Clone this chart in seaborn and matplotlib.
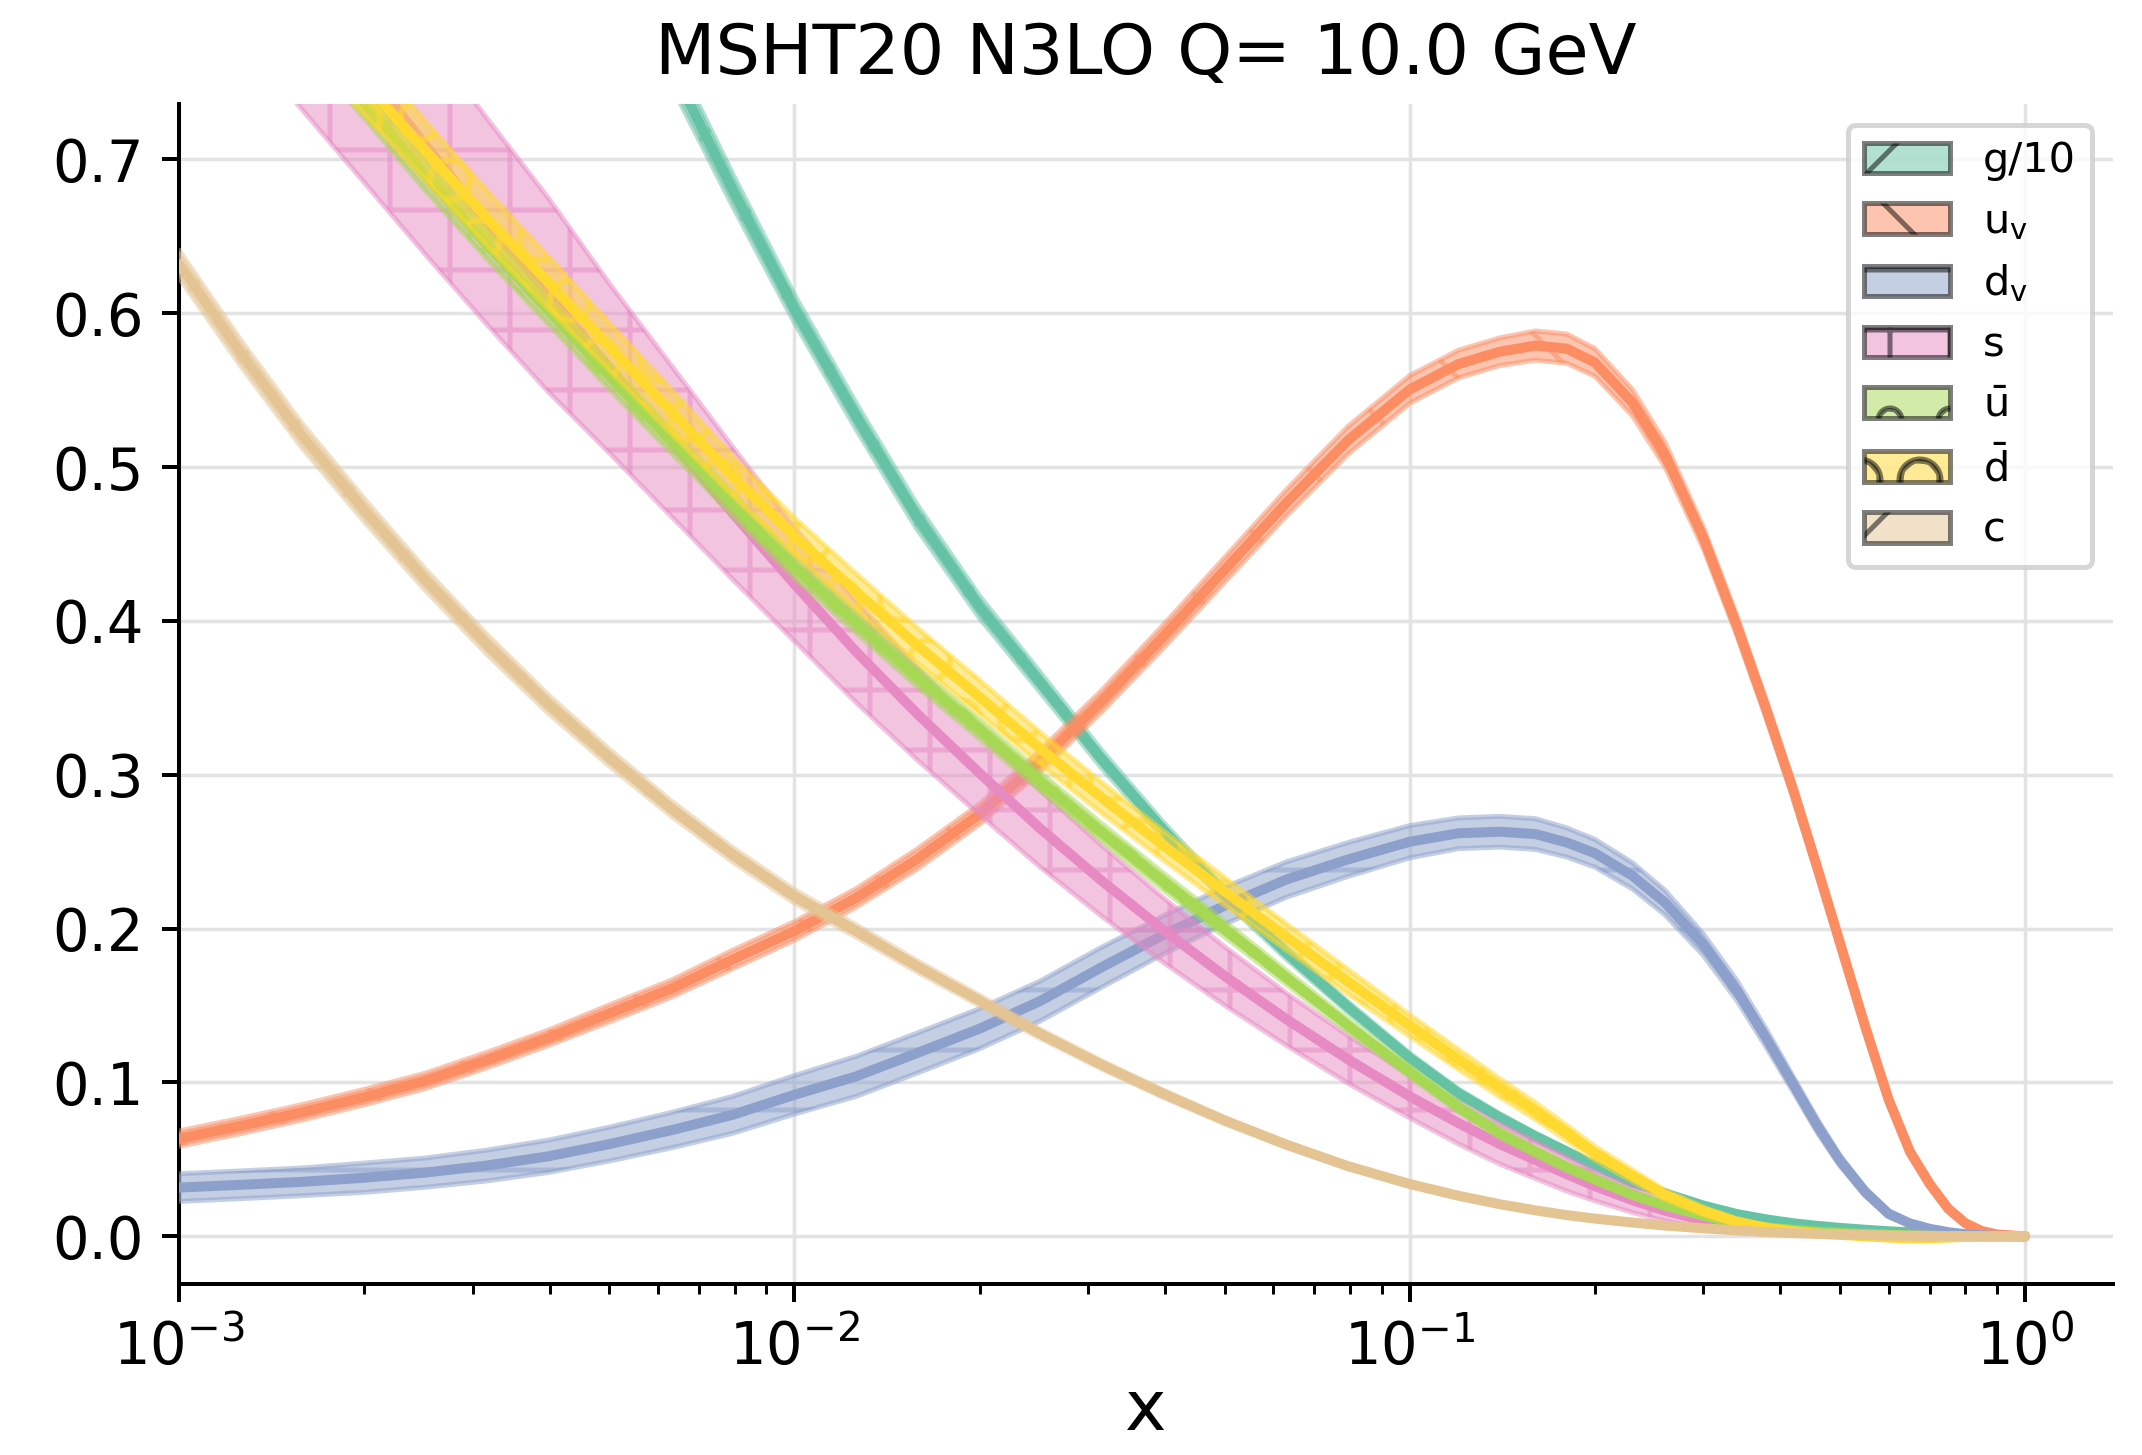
import numpy as np
import pandas as pd
import matplotlib
matplotlib.use("Agg")
import matplotlib.pyplot as plt
import matplotlib.patches as mpatches
import seaborn as sns

sns.set_style("ticks", {"axes.edgecolor": "black", "text.color": "black",
                        "xtick.color": "black", "ytick.color": "black",
                        "axes.labelcolor": "black"})

# momentum fraction grid
x = [0.001, 0.00126, 0.00158, 0.002, 0.00251, 0.00316, 0.00398, 0.00501, 0.00631, 0.00794,
     0.01, 0.0126, 0.0158, 0.02, 0.0251, 0.0316, 0.0398, 0.0501, 0.0631, 0.0794,
     0.1, 0.12, 0.14, 0.16, 0.18, 0.2, 0.23, 0.26, 0.3, 0.34, 0.38, 0.42, 0.46,
     0.5, 0.55, 0.6, 0.65, 0.7, 0.75, 0.8, 0.85, 0.9, 1.0]

# central values x*f(x, Q=10 GeV)
g10 = [1.50, 1.40, 1.30, 1.205, 1.11, 1.018, 0.929, 0.843, 0.760, 0.680,
       0.603, 0.533, 0.468, 0.409, 0.36, 0.31, 0.264, 0.222, 0.184, 0.149,
       0.116, 0.093, 0.0773, 0.065, 0.055, 0.046, 0.035, 0.028, 0.020, 0.0145, 0.011, 0.0085, 0.0068,
       0.0055, 0.0043, 0.0033, 0.0026, 0.002, 0.0015, 0.0011, 0.0008, 0.0005, 0.0]
uv = [0.0635, 0.0718, 0.0805, 0.0905, 0.101, 0.1145, 0.129, 0.145, 0.161, 0.180,
      0.1985, 0.220, 0.245, 0.2745, 0.309, 0.348, 0.390, 0.4335, 0.477, 0.5175,
      0.5505, 0.567, 0.575, 0.579, 0.577, 0.568, 0.542, 0.508, 0.454, 0.397, 0.342, 0.290, 0.239,
      0.191, 0.136, 0.089, 0.055, 0.034, 0.018, 0.0085, 0.0035, 0.0012, 0.0]
dv = [0.0317, 0.0335, 0.0354, 0.0381, 0.0414, 0.046, 0.052, 0.060, 0.069, 0.079,
      0.092, 0.104, 0.119, 0.135, 0.153, 0.175, 0.196, 0.215, 0.232, 0.245,
      0.2565, 0.262, 0.263, 0.2615, 0.256, 0.249, 0.2344, 0.2169, 0.1896, 0.1599, 0.1285, 0.0988, 0.0716,
      0.0493, 0.0288, 0.0147, 0.0084, 0.0049, 0.0027, 0.0014, 0.0007, 0.0003, 0.0]
s = [0.916, 0.863, 0.811, 0.760, 0.7095, 0.660, 0.612, 0.564, 0.517, 0.470,
     0.424, 0.380, 0.340, 0.301, 0.265, 0.231, 0.199, 0.169, 0.141, 0.115,
     0.091, 0.0736, 0.060, 0.0496, 0.0404, 0.0326, 0.0235, 0.0166, 0.0104, 0.0066, 0.0045, 0.0031, 0.0022,
     0.0016, 0.0011, 0.0007, 0.0005, 0.0003, 0.0002, 0.0001, 0.0001, 0.0, 0.0]
ubar = [0.881, 0.831, 0.784, 0.7374, 0.690, 0.645, 0.602, 0.559, 0.517, 0.476,
        0.435, 0.399, 0.364, 0.3295, 0.2955, 0.2625, 0.2305, 0.1995, 0.168, 0.137,
        0.107, 0.084, 0.067, 0.055, 0.045, 0.037, 0.027, 0.020, 0.0135, 0.0085, 0.0058, 0.0042, 0.003,
        0.0022, 0.0015, 0.001, 0.0006, 0.0004, 0.0002, 0.0001, 0.0001, 0.0, 0.0]
dbar = [0.888, 0.841, 0.795, 0.750, 0.706, 0.662, 0.620, 0.578, 0.536, 0.494,
        0.455, 0.419, 0.3845, 0.3505, 0.317, 0.285, 0.254, 0.224, 0.1945, 0.1655,
        0.137, 0.115, 0.0966, 0.0815, 0.0672, 0.054, 0.0395, 0.027, 0.0165, 0.0095, 0.0055, 0.0032, 0.0018,
        0.001, 0.0, -0.0008, -0.0013, -0.0012, -0.0008, -0.0004, -0.0002, 0.0, 0.0]
c = [0.632, 0.574, 0.521, 0.472, 0.427, 0.385, 0.346, 0.311, 0.278, 0.248,
     0.221, 0.1985, 0.1757, 0.1532, 0.1316, 0.1114, 0.0926, 0.0752, 0.0595, 0.0456,
     0.034, 0.0264, 0.0209, 0.0169, 0.0138, 0.0115, 0.009, 0.007, 0.0052, 0.0038, 0.0028, 0.0021, 0.0016,
     0.0012, 0.0008, 0.0005, 0.0003, 0.0002, 0.0001, 0.0001, 0.0, 0.0, 0.0]

# half-widths of the uncertainty bands
g10_err = [0.02, 0.019, 0.018, 0.017, 0.016, 0.015, 0.014, 0.013, 0.012, 0.0105,
           0.009, 0.0085, 0.008, 0.0072, 0.0065, 0.0058, 0.005, 0.0044, 0.004, 0.0035,
           0.003, 0.0028, 0.0025, 0.0022, 0.002, 0.0018, 0.0015, 0.0012, 0.001, 0.0008, 0.0007, 0.0006, 0.0005,
           0.0004, 0.0003, 0.0003, 0.0002, 0.0002, 0.0001, 0.0001, 0.0, 0.0, 0.0]
uv_err = [0.005, 0.005, 0.005, 0.005, 0.005, 0.005, 0.005, 0.0055, 0.0055, 0.006,
          0.006, 0.006, 0.0065, 0.0065, 0.007, 0.007, 0.0075, 0.008, 0.0085, 0.009,
          0.009, 0.009, 0.009, 0.0095, 0.0095, 0.009, 0.0085, 0.008, 0.007, 0.0065, 0.006, 0.0055, 0.005,
          0.0045, 0.004, 0.003, 0.0025, 0.002, 0.0015, 0.001, 0.0005, 0.0003, 0.0]
dv_err = [0.009, 0.009, 0.009, 0.0095, 0.0095, 0.010, 0.0105, 0.011, 0.0115, 0.012,
          0.0125, 0.013, 0.013, 0.013, 0.013, 0.013, 0.0125, 0.012, 0.0115, 0.011,
          0.0105, 0.010, 0.010, 0.010, 0.0095, 0.009, 0.0085, 0.008, 0.007, 0.0065, 0.006, 0.005, 0.0045,
          0.0035, 0.0025, 0.002, 0.0013, 0.0009, 0.0006, 0.0003, 0.0002, 0.0001, 0.0]
s_err = [0.085, 0.082, 0.078, 0.075, 0.071, 0.067, 0.063, 0.055, 0.049, 0.043,
         0.037, 0.033, 0.030, 0.027, 0.025, 0.023, 0.021, 0.019, 0.017, 0.0155,
         0.014, 0.0135, 0.013, 0.012, 0.011, 0.0095, 0.008, 0.0065, 0.005, 0.004, 0.003, 0.0022, 0.0016,
         0.0011, 0.0007, 0.0005, 0.0003, 0.0002, 0.0001, 0.0001, 0.0, 0.0, 0.0]
ubar_err = [0.012, 0.0115, 0.011, 0.0105, 0.010, 0.0095, 0.009, 0.0085, 0.008, 0.0075,
            0.007, 0.0068, 0.0065, 0.0062, 0.006, 0.0057, 0.0055, 0.005, 0.0045, 0.004,
            0.0035, 0.003, 0.0028, 0.0025, 0.0022, 0.002, 0.0016, 0.0013, 0.001, 0.0007, 0.0005, 0.0004, 0.0003,
            0.0002, 0.0002, 0.0001, 0.0001, 0.0, 0.0, 0.0, 0.0, 0.0, 0.0]
dbar_err = [0.025, 0.024, 0.022, 0.021, 0.019, 0.018, 0.017, 0.0155, 0.0145, 0.013,
            0.012, 0.0118, 0.0115, 0.011, 0.0105, 0.010, 0.0095, 0.009, 0.0085, 0.008,
            0.007, 0.0065, 0.006, 0.0055, 0.005, 0.0045, 0.0038, 0.003, 0.0025, 0.002, 0.0016, 0.0013, 0.001,
            0.0008, 0.0006, 0.0005, 0.0004, 0.0003, 0.0002, 0.0002, 0.0001, 0.0, 0.0]
c_err = [0.009, 0.0085, 0.008, 0.0075, 0.007, 0.0065, 0.006, 0.0055, 0.005, 0.0047,
         0.0044, 0.004, 0.0037, 0.0034, 0.003, 0.0027, 0.0024, 0.002, 0.0017, 0.0014,
         0.0012, 0.001, 0.0009, 0.0008, 0.0007, 0.0006, 0.0005, 0.0004, 0.0003, 0.0003, 0.0002, 0.0002, 0.0001,
         0.0001, 0.0001, 0.0, 0.0, 0.0, 0.0, 0.0, 0.0, 0.0, 0.0]

labels = ["g/10", r"$\mathrm{u_v}$", r"$\mathrm{d_v}$", "s",
          r"$\bar{\mathrm{u}}$", r"$\bar{\mathrm{d}}$", "c"]
hatches = ["/", "\\", "-", "+", "o", "O", "/"]
centrals = [g10, uv, dv, s, ubar, dbar, c]
errors = [g10_err, uv_err, dv_err, s_err, ubar_err, dbar_err, c_err]
colors = sns.color_palette("Set2", 7)

fig, ax = plt.subplots(figsize=(2142 / 360, 1455 / 360))
fig.subplots_adjust(left=0.0836, right=0.9865, bottom=0.1175, top=0.9285)

handles = []
for i, (lab, vals, err, col, h) in enumerate(zip(labels, centrals, errors, colors, hatches)):
    df = pd.DataFrame({"x": x, "xf": vals, "err": err})
    lo = df["xf"] - df["err"]
    hi = df["xf"] + df["err"]
    ax.fill_between(df["x"], lo, hi, facecolor=col, edgecolor=col, alpha=0.5,
                    hatch=h, linewidth=1.0, zorder=2 + 2 * i)
    sns.lineplot(data=df, x="x", y="xf", color=col, linewidth=2.0, ax=ax,
                 zorder=3 + 2 * i, legend=False)
    handles.append(mpatches.Patch(facecolor=col, edgecolor="k", alpha=0.5,
                                  hatch=h, linewidth=1.0, label=lab))

ax.set_xscale("log")
ax.set_xlim(1e-3, 1.39)
ax.set_ylim(-0.031, 0.736)
ax.set_axisbelow(True)
ax.grid(True, which="major", color="#e3e3e3", linewidth=0.7)
ax.tick_params(axis="both", labelsize=11.5)
ax.set_xlabel("x", fontsize=14, labelpad=0)
ax.set_ylabel("")
ax.set_title("MSHT20 N3LO Q= 10.0 GeV", fontsize=14)
sns.despine(ax=ax)

ax.legend(handles=handles, loc="upper right", fontsize=8.3,
          handlelength=2.05, handleheight=0.75)

fig.savefig("out.png", dpi=360)
